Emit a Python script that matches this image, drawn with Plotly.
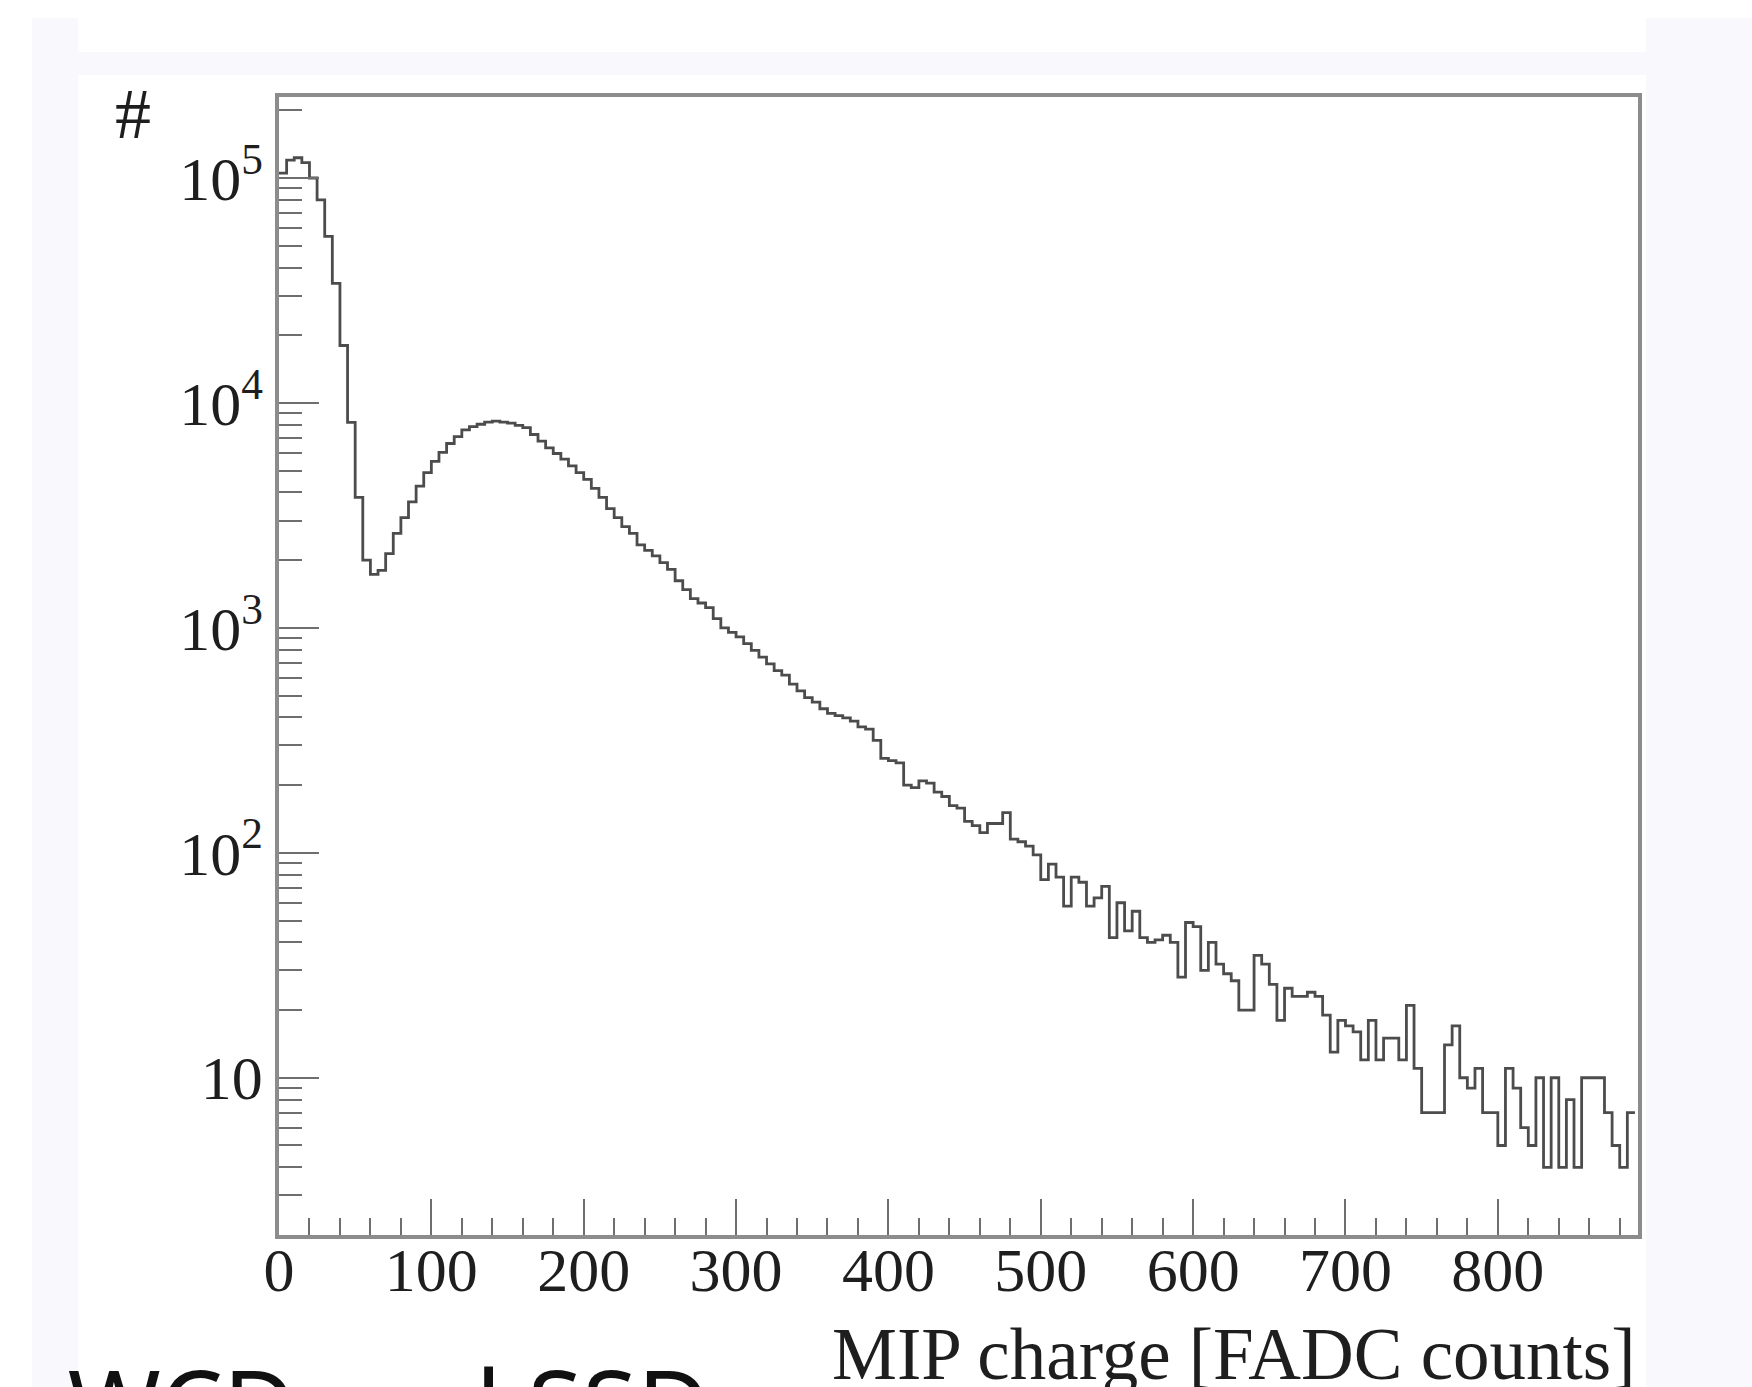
import numpy as np
import plotly.graph_objects as go

# MIP charge histogram, 5 FADC-count bins starting at 0
BIN_WIDTH = 5

# pedestal region, bins 0-65
pedestal_counts = [105000, 120000, 123000, 117000, 100000, 80000, 55000, 34000,
                   18000, 8200, 3800, 2000, 1730, 1800]

# MIP hump and its falling edge, bins 70-385
mip_counts = [2140, 2630, 3090, 3630, 4270, 4900, 5500, 6030, 6600, 7080,
              7590, 7850, 8040, 8220, 8300, 8220, 8130, 7950, 7760, 7240,
              6760, 6310, 5960, 5620, 5250, 4900, 4570, 4170, 3800, 3390,
              3090, 2820, 2630, 2340, 2210, 2090, 1950, 1820, 1620, 1480,
              1350, 1290, 1230, 1100, 1000, 955, 912, 851, 794, 741,
              692, 646, 617, 562, 525, 490, 468, 437, 417, 407,
              398, 385, 363, 355]

# high-charge tail, bins 390-885
tail_counts = [316, 263, 257, 251, 200, 195, 209, 204, 186, 178,
               162, 158, 138, 132, 123, 135, 135, 151, 115, 112,
               107, 98, 76, 89, 78, 58, 78, 74, 58, 63,
               71, 42, 60, 45, 55, 42, 40, 41, 43, 40,
               28, 49, 47, 30, 40, 32, 29, 27, 20, 20,
               35, 32, 26, 18, 25, 23, 23, 24, 23, 19,
               13, 18, 17, 16, 12, 18, 12, 15, 15, 12,
               21, 11, 7, 7, 7, 14, 17, 10, 9, 11,
               7, 7, 5, 11, 9, 6, 5, 10, 4, 10,
               4, 8, 4, 10, 10, 10, 7, 5, 4, 7]

y_tick_vals = [10, 100, 1000, 10000, 100000]
y_tick_text = ["10", "10<sup>2</sup>", "10<sup>3</sup>", "10<sup>4</sup>", "10<sup>5</sup>"]
x_title = "MIP charge [FADC counts]"
y_title = "#"
footer_text = "n WCD and SSD"

counts = pedestal_counts + mip_counts + tail_counts
edges = np.arange(len(counts) + 1) * BIN_WIDTH
step_y = counts + [counts[-1]]

W, H = 1752, 1387
L, R, T, B = 279, 114, 97, 152
pw, ph = W - L - R, H - T - B


def px(xp):
    return (xp - L) / pw


def py(yp):
    return (H - B - yp) / ph


serif = "Liberation Serif, Times New Roman, serif"
axis_grey = "#8c8c8c"
tick_grey = "#6e6e6e"
ink = "#1e1e1e"

fig = go.Figure()
fig.add_trace(go.Scatter(
    x=edges, y=step_y, mode="lines", line_shape="hv",
    line=dict(color="#4c4c4c", width=2.8), showlegend=False,
    hoverinfo="skip",
))

# slide backdrop: pale lavender bands around the white plot card
lav = "#f8f8fd"
bands = [
    (32, 18, 78, H),
    (1646, 18, W, H),
    (78, 52, 1646, 75),
]
shapes = []
for x0, y0, x1, y1 in bands:
    shapes.append(dict(type="rect", xref="paper", yref="paper",
                       x0=px(x0), x1=px(x1), y0=py(y1), y1=py(y0),
                       fillcolor=lav, line_width=0, layer="below"))

fig.update_layout(
    width=W, height=H,
    margin=dict(l=L, r=R, t=T, b=B),
    paper_bgcolor="white", plot_bgcolor="white",
    shapes=shapes,
    font=dict(family=serif, color=ink),
    xaxis=dict(
        range=[0, 892], showgrid=False, zeroline=False,
        showline=True, linecolor=axis_grey, linewidth=3.5, mirror=True,
        ticks="inside", ticklen=36, tickwidth=2, tickcolor=tick_grey,
        dtick=100, tick0=0,
        minor=dict(ticks="inside", ticklen=17, tickwidth=2,
                   tickcolor=tick_grey, dtick=20, showgrid=False),
        tickfont=dict(family=serif, size=62, color=ink),
        ticklabelstandoff=-22,
    ),
    yaxis=dict(
        type="log", range=[np.log10(2), 5.36], showgrid=False, zeroline=False,
        showline=True, linecolor=axis_grey, linewidth=3.5, mirror=True,
        ticks="inside", ticklen=40, tickwidth=2, tickcolor=tick_grey,
        tickmode="array", tickvals=y_tick_vals, ticktext=y_tick_text,
        minor=dict(ticks="inside", ticklen=23, tickwidth=2,
                   tickcolor=tick_grey, dtick="D1", showgrid=False),
        tickfont=dict(family=serif, size=62, color=ink),
        ticklabelstandoff=0,
    ),
    annotations=[
        dict(text=x_title, xref="paper", yref="paper", x=1.0, y=py(1312),
             xanchor="right", yanchor="top", showarrow=False,
             font=dict(family=serif, size=73, color=ink)),
        dict(text=y_title, xref="paper", yref="paper", x=px(133), y=py(114),
             xanchor="center", yanchor="middle", showarrow=False,
             font=dict(family=serif, size=72, color=ink)),
        dict(text=footer_text, xref="paper", yref="paper", x=px(712), y=py(1334),
             xanchor="right", yanchor="top", showarrow=False,
             font=dict(family="Noto Sans, sans-serif", size=100, color="#111111")),
    ],
)

fig.write_html("out.html")
